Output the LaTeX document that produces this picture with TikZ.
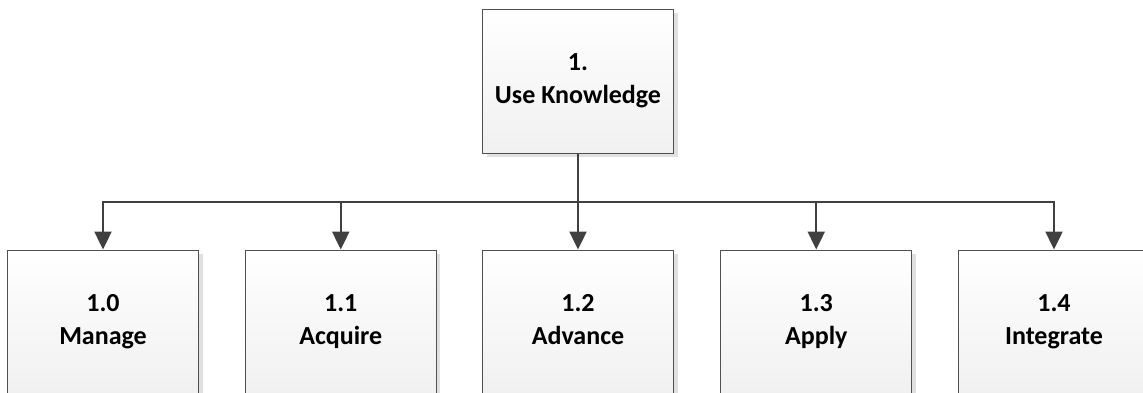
\documentclass[tikz,border=0pt]{standalone}
\usepackage{fontspec}
\setmainfont{Carlito}
\usetikzlibrary{arrows.meta,shadows}
\definecolor{edgegray}{HTML}{505050}
\definecolor{wiregray}{HTML}{404040}
\definecolor{shadegray}{HTML}{E0E0E0}
\definecolor{boxbottom}{HTML}{F0F0F0}
\tikzset{
  box/.style={draw=edgegray, line width=1pt, top color=white, bottom color=boxbottom,
    minimum width=191pt, minimum height=144pt, inner sep=0pt, align=center,
    font=\fontsize{26}{33}\selectfont\bfseries,
    drop shadow={shadow xshift=4pt, shadow yshift=-4pt, fill=shadegray, opacity=1}},
  link/.style={draw=wiregray, line width=2.4pt,
    -{Triangle[length=18pt,width=17pt]}}
}
\begin{document}
\begin{tikzpicture}[x=1pt,y=-1pt]
  \useasboundingbox (0,0) rectangle (1143,392);
  % root of the hierarchy
  \node[box] (top) at (578,81) {1.\\Use Knowledge};
  % second level
  \node[box] (c0) at (103,322)    {1.0\\Manage};
  \node[box] (c1) at (340.75,322) {1.1\\Acquire};
  \node[box] (c2) at (578,322)    {1.2\\Advance\vphantom{g}};
  \node[box] (c3) at (816.25,322) {1.3\\Apply};
  \node[box] (c4) at (1054,322)   {1.4\\Integrate};
  % distribution bus
  \coordinate (bus) at (578,202);
  \foreach \c in {c0,c1,c2,c3,c4}
    \draw[link] (top.south) -- (bus) -| (\c.north);
\end{tikzpicture}
\end{document}
